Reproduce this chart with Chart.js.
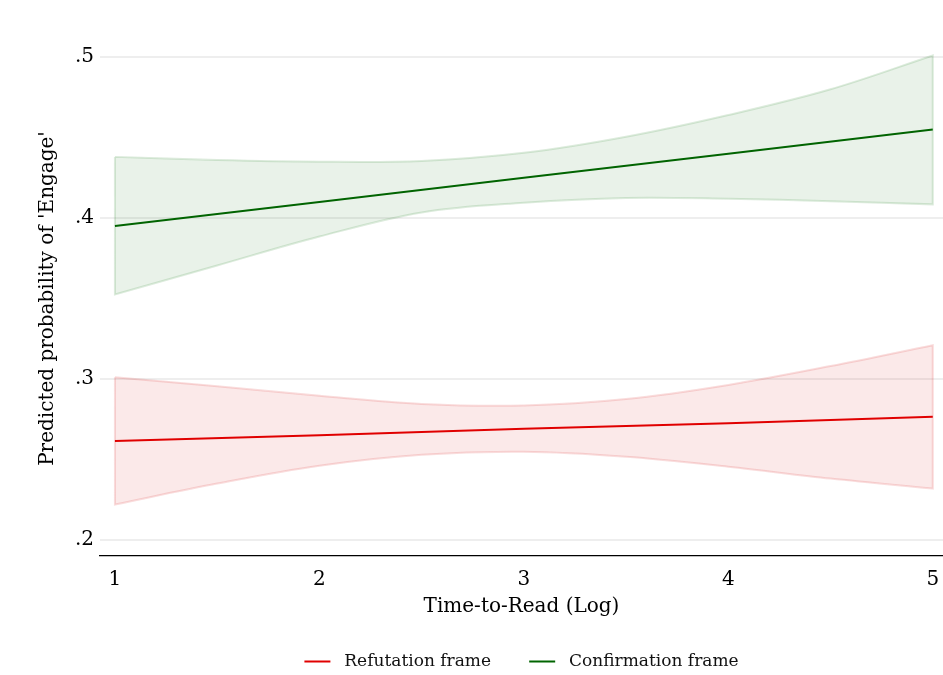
<!DOCTYPE html>
<html lang="en">
<head>
  <meta charset="UTF-8" />
  <title>Predicted probability of Engage</title>
  <style>
    body { background-color: #ffffff; margin: 0; padding: 0; }
    #wrap { width: 943px; height: 675px; }
  </style>
  <script src="https://cdn.jsdelivr.net/npm/chart.js"></script>
</head>
<body>
  <div id="wrap"><canvas id="chart" width="943" height="675"></canvas></div>

  <script>
    // x positions where the bands were read
    const bandX = [1, 1.5, 2, 2.5, 3, 3.5, 4, 4.5, 5];
    const confUpper = [0.438, 0.436, 0.435, 0.4355, 0.4405, 0.4505, 0.464, 0.480, 0.501];
    const confLower = [0.3525, 0.3705, 0.3885, 0.4035, 0.4095, 0.4125, 0.412, 0.4105, 0.4085];
    const refUpper = [0.301, 0.2955, 0.2895, 0.2845, 0.2835, 0.2875, 0.2963, 0.308, 0.321];
    const refLower = [0.222, 0.235, 0.2461, 0.2529, 0.2548, 0.2517, 0.2455, 0.2381, 0.2319];

    // predicted lines
    const lineX = [1, 2, 3, 4, 5];
    const confLine = [0.395, 0.410, 0.425, 0.440, 0.455];
    const refLine = [0.2615, 0.265, 0.269, 0.2725, 0.2765];

    const xTicks = [1, 2, 3, 4, 5];
    const yTicks = [0.2, 0.3, 0.4, 0.5];

    const serif = "'DejaVu Serif', 'Liberation Serif', serif";

    // closed outline: along upper bound, down at x=5, back along lower bound
    function bandShape(xs, up, lo) {
      const pts = [];
      xs.forEach((x, i) => pts.push({ x: x, y: up[i] }));
      pts.push({ x: xs[xs.length - 1], y: up[up.length - 1] });
      for (let i = xs.length - 1; i >= 0; i--) {
        pts.push({ x: xs[i], y: lo[i] });
        if (i === xs.length - 1) pts.push({ x: xs[i], y: lo[i] });
      }
      pts.push({ x: xs[0], y: lo[0] });
      pts.push({ x: xs[0], y: up[0] });
      return pts;
    }

    function linePts(xs, ys) {
      return xs.map((x, i) => ({ x: x, y: ys[i] }));
    }

    const ctx = document.getElementById('chart').getContext('2d');
    new Chart(ctx, {
      type: 'line',
      data: {
        datasets: [
          {
            label: 'Refutation frame',
            data: linePts(lineX, refLine),
            borderColor: '#e00000',
            borderWidth: 2,
            pointRadius: 0,
            fill: false,
            order: 1
          },
          {
            label: 'Confirmation frame',
            data: linePts(lineX, confLine),
            borderColor: '#006400',
            borderWidth: 2,
            pointRadius: 0,
            fill: false,
            order: 1
          },
          {
            label: 'band-ref',
            data: bandShape(bandX, refUpper, refLower),
            borderColor: 'rgba(220, 40, 40, 0.16)',
            backgroundColor: 'rgba(220, 40, 40, 0.10)',
            borderWidth: 2,
            pointRadius: 0,
            tension: 0.35,
            fill: 'shape',
            order: 2
          },
          {
            label: 'band-conf',
            data: bandShape(bandX, confUpper, confLower),
            borderColor: 'rgba(40, 130, 40, 0.16)',
            backgroundColor: 'rgba(40, 130, 40, 0.10)',
            borderWidth: 2,
            pointRadius: 0,
            tension: 0.35,
            fill: 'shape',
            order: 2
          }
        ]
      },
      options: {
        responsive: false,
        animation: false,
        layout: { padding: { top: 41, right: 0, left: 0, bottom: -5 } },
        plugins: {
          tooltip: { enabled: false },
          legend: {
            position: 'bottom',
            fullSize: false,
            labels: {
              filter: item => item.datasetIndex < 2,
              // a bit more room between marker, text and next item
              generateLabels: chart => {
                const items = Chart.defaults.plugins.legend.labels.generateLabels(chart);
                items.forEach((it, i) => { it.text = ' ' + it.text + (i === 0 ? '   ' : ''); });
                return items;
              },
              usePointStyle: true,
              pointStyle: 'line',
              pointStyleWidth: 26,
              padding: 22,
              color: '#111',
              font: { family: serif, size: 17 }
            }
          }
        },
        scales: {
          x: {
            type: 'linear',
            min: 0.927,
            max: 5.05,
            afterBuildTicks: axis => { axis.ticks = xTicks.map(v => ({ value: v })); },
            afterFit: axis => { axis.height = 75; axis.paddingLeft = 0; axis.paddingRight = 0; },
            grid: { display: false, drawTicks: false },
            border: { display: true, color: '#000', width: 1.3 },
            ticks: { color: '#000', padding: 12, font: { family: serif, size: 20 } },
            title: {
              display: true,
              text: 'Time-to-Read (Log)',
              color: '#000',
              padding: { top: 0, bottom: 12 },
              font: { family: serif, size: 20 }
            }
          },
          y: {
            min: 0.19,
            max: 0.51,
            afterBuildTicks: axis => { axis.ticks = yTicks.map(v => ({ value: v })); },
            afterFit: axis => { axis.width = 100; },
            grid: { color: '#eeeeee', lineWidth: 2, drawTicks: false },
            border: { display: false },
            ticks: {
              color: '#000',
              padding: 6,
              font: { family: serif, size: 20 },
              callback: v => '.' + Math.round(v * 10)
            },
            title: {
              display: true,
              text: "Predicted probability of 'Engage'",
              color: '#000',
              padding: { top: 36, bottom: 0 },
              font: { family: serif, size: 20 }
            }
          }
        }
      }
    });
  </script>
</body>
</html>
